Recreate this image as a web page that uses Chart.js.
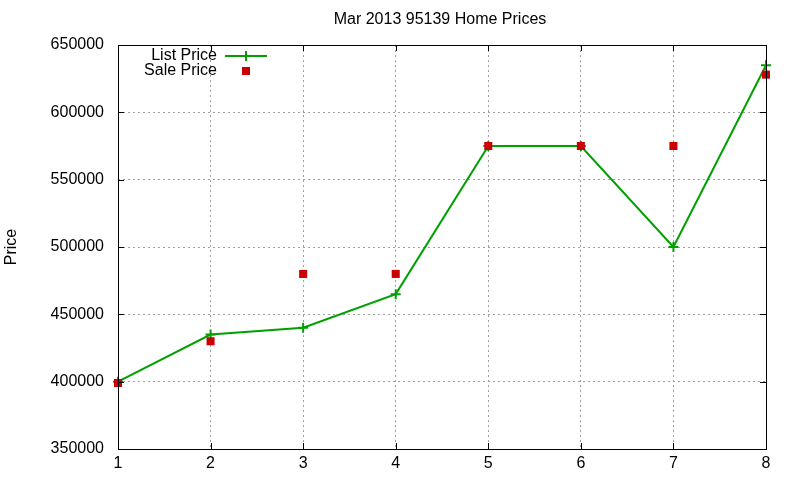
<!DOCTYPE html>
<html>
<head>
  <meta charset="UTF-8">
  <title>Mar 2013 95139 Home Prices</title>
  <script src="https://cdn.jsdelivr.net/npm/chart.js"></script>
  <style>
    html, body { margin: 0; padding: 0; background: #fff; }
  </style>
</head>
<body>
  <canvas id="myChart" width="800" height="480"></canvas>
  <script>
    // values
    const points = [1, 2, 3, 4, 5, 6, 7, 8];
    const listPrice = [400000, 435000, 440000, 465000, 575000, 575000, 500000, 635000];
    const salePrice = [399000, 430000, 480000, 480000, 575000, 575000, 575000, 628000];

    const green = '#00a000';
    const red = '#cc0000';
    const font = 'Liberation Sans, Arial, sans-serif';

    // gnuplot look: frame, small inward ticks, title and key
    const gnuplotFrame = {
      id: 'gnuplotFrame',
      afterDraw(chart) {
        const ctx = chart.ctx;
        const a = chart.chartArea;
        const xs = chart.scales.x, ys = chart.scales.y;
        ctx.save();
        ctx.strokeStyle = '#000';
        ctx.lineWidth = 1;
        ctx.strokeRect(a.left + 0.5, a.top + 0.5, a.right - a.left, a.bottom - a.top);
        ctx.beginPath();
        xs.ticks.forEach(t => {
          const px = Math.round(xs.getPixelForValue(t.value)) + 0.5;
          ctx.moveTo(px, a.bottom); ctx.lineTo(px, a.bottom - 6);
          ctx.moveTo(px, a.top); ctx.lineTo(px, a.top + 6);
        });
        ys.ticks.forEach(t => {
          const py = Math.round(ys.getPixelForValue(t.value)) + 0.5;
          ctx.moveTo(a.left, py); ctx.lineTo(a.left + 6, py);
          ctx.moveTo(a.right, py); ctx.lineTo(a.right - 6, py);
        });
        ctx.stroke();

        // title
        ctx.fillStyle = '#000';
        ctx.font = '16px ' + font;
        ctx.textAlign = 'center';
        ctx.textBaseline = 'middle';
        ctx.fillText('Mar 2013 95139 Home Prices', 440, 20);

        // key
        ctx.textAlign = 'right';
        ctx.fillText('List Price', 217, 56);
        ctx.fillText('Sale Price', 217, 71);
        ctx.strokeStyle = green;
        ctx.lineWidth = 2;
        ctx.beginPath();
        ctx.moveTo(225, 56); ctx.lineTo(267, 56);
        ctx.moveTo(246, 51); ctx.lineTo(246, 61);
        ctx.stroke();
        ctx.fillStyle = red;
        ctx.fillRect(242, 67, 8, 8);
        ctx.restore();
      }
    };

    const ctx = document.getElementById('myChart').getContext('2d');
    new Chart(ctx, {
      type: 'line',
      data: {
        datasets: [{
          label: 'List Price',
          data: points.map((p, i) => ({ x: p, y: listPrice[i] })),
          borderColor: green,
          backgroundColor: green,
          borderWidth: 2,
          pointStyle: 'cross',
          pointRadius: 5,
          pointBorderWidth: 2,
          fill: false,
          tension: 0,
          clip: false,
          order: 1
        }, {
          label: 'Sale Price',
          data: points.map((p, i) => ({ x: p, y: salePrice[i] })),
          showLine: false,
          borderColor: red,
          backgroundColor: red,
          pointStyle: 'rect',
          pointRadius: 5.7,
          pointBorderWidth: 0,
          clip: false,
          order: 0
        }]
      },
      options: {
        responsive: false,
        animation: false,
        layout: { padding: { top: 45, right: 34, left: 0, bottom: 0 } },
        plugins: {
          legend: { display: false },
          title: { display: false },
          tooltip: { enabled: false }
        },
        scales: {
          x: {
            type: 'linear',
            min: 1,
            max: 8,
            ticks: { stepSize: 1, color: '#000', font: { family: font, size: 16 }, padding: 5 },
            grid: { color: '#a0a0a0', drawTicks: false },
            border: { display: false, dash: [2, 3] },
            afterFit(scale) { scale.height = 31; }
          },
          y: {
            min: 350000,
            max: 650000,
            ticks: {
              stepSize: 50000, color: '#000', font: { family: font, size: 16 }, padding: 14,
              callback: v => String(v)
            },
            grid: { color: '#a0a0a0', drawTicks: false },
            border: { display: false, dash: [2, 3] },
            title: { display: true, text: 'Price', color: '#000', font: { family: font, size: 16 }, padding: { top: 2, bottom: 0 } },
            afterFit(scale) { scale.width = 118; }
          }
        }
      },
      plugins: [gnuplotFrame]
    });
  </script>
</body>
</html>
